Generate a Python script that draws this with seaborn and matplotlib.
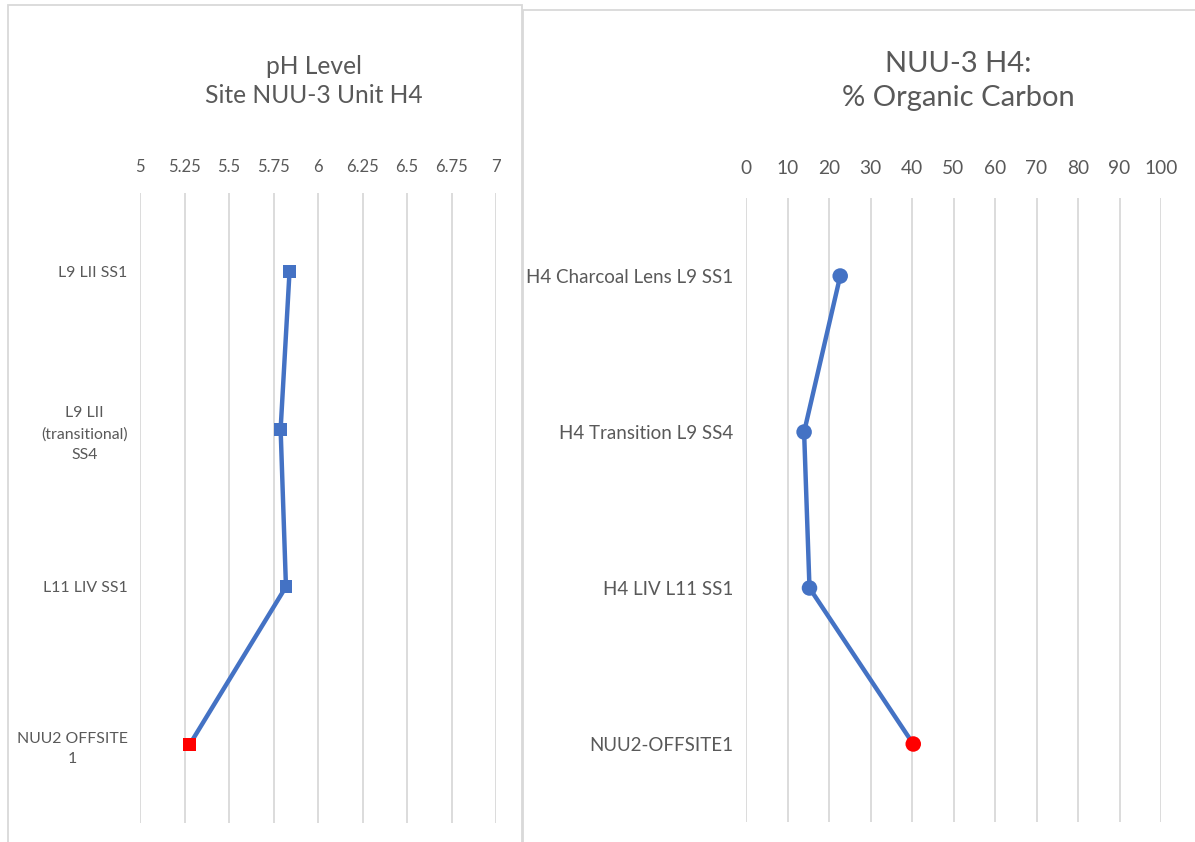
import matplotlib
matplotlib.use("Agg")
import matplotlib.pyplot as plt
from matplotlib.patches import Rectangle
import seaborn as sns
import pandas as pd

# pH readings, Site NUU-3 Unit H4 (top to bottom)
ph_samples = ["L9 LII SS1", "L9 LII\n(transitional)\nSS4", "L11 LIV SS1", "NUU2 OFFSITE\n1"]
ph_values = [5.84, 5.79, 5.82, 5.28]
ph_ticks = [5, 5.25, 5.5, 5.75, 6, 6.25, 6.5, 6.75, 7]
ph_tick_labels = ["5", "5.25", "5.5", "5.75", "6", "6.25", "6.5", "6.75", "7"]

# Percent organic carbon, NUU-3 H4 (top to bottom)
oc_samples = ["H4 Charcoal Lens L9 SS1", "H4 Transition L9 SS4", "H4 LIV L11 SS1", "NUU2-OFFSITE1"]
oc_values = [22.7, 14.0, 15.3, 40.3]
oc_ticks = [0, 10, 20, 30, 40, 50, 60, 70, 80, 90, 100]

# which samples are off-site (drawn in red)
offsite = [False, False, False, True]

sns.set_theme(style="white")
plt.rcParams["font.family"] = ["Lato", "DejaVu Sans"]

BLUE = "#4472C4"
RED = "#FF0000"
GRID = "#D9D9D9"
TEXT = "#595959"

fig = plt.figure(figsize=(11.95, 8.42), dpi=100)
W, H = 1195, 842


def box(x0, y0, x1, y1):
    return [x0 / W, 1 - y1 / H, (x1 - x0) / W, (y1 - y0) / H]


# panel frames
fig.patches.append(Rectangle((8 / W, -0.01), (522 - 8) / W, 1 - 5 / H + 0.01,
                             transform=fig.transFigure, fill=False,
                             edgecolor=GRID, linewidth=1.3))
fig.patches.append(Rectangle((523 / W, -0.01), (1200 - 523) / W, 1 - 10 / H + 0.01,
                             transform=fig.transFigure, fill=False,
                             edgecolor=GRID, linewidth=1.3))


def panel(ax, samples, values, ticks, tick_labels, xlim, marker, msize,
          tick_fs, cat_fs, xpad, ypad, cat_spacing):
    df = pd.DataFrame({"sample": samples, "value": values,
                       "pos": range(len(samples)),
                       "site": ["off" if o else "on" for o in offsite]})
    sns.lineplot(data=df, x="value", y="pos", sort=False, orient="y",
                 color=BLUE, linewidth=3.2, ax=ax, zorder=3)
    sns.scatterplot(data=df, x="value", y="pos", hue="site",
                    palette={"on": BLUE, "off": RED}, marker=marker,
                    s=msize, linewidth=0, ax=ax, zorder=4, legend=False)
    ax.set_xlim(*xlim)
    ax.set_ylim(len(samples) - 0.5, -0.5)
    ax.set_xticks(ticks)
    ax.set_xticklabels(tick_labels)
    ax.set_yticks(range(len(samples)))
    ax.set_yticklabels(samples)
    ax.xaxis.tick_top()
    ax.tick_params(axis="x", length=0, pad=xpad, labelsize=tick_fs, labelcolor=TEXT)
    ax.tick_params(axis="y", length=0, pad=ypad, labelsize=cat_fs, labelcolor=TEXT)
    for lbl in ax.get_yticklabels():
        lbl.set_multialignment("center")
        lbl.set_linespacing(cat_spacing)
    ax.grid(axis="x", color=GRID, linewidth=1.3)
    ax.grid(axis="y", visible=False)
    for s in ax.spines.values():
        s.set_visible(False)
    ax.set_xlabel("")
    ax.set_ylabel("")
    ax.set_facecolor("none")


ax1 = fig.add_axes(box(140, 193, 496, 823))
panel(ax1, ph_samples, ph_values, ph_ticks, ph_tick_labels, (5, 7), "s", 85,
      12, 11.4, 13, 9, 1.6)

ax2 = fig.add_axes(box(746, 198, 1161, 822))
panel(ax2, oc_samples, oc_values, oc_ticks, [str(t) for t in oc_ticks],
      (0, 100), "o", 125, 13.8, 13.5, 15, 9, 1.4)

fig.text(314 / W, 1 - 81 / H, "pH Level\nSite NUU-3 Unit H4", ha="center",
         va="center", fontsize=17.7, color=TEXT, linespacing=1.3)
fig.text(958 / W, 1 - 81 / H, "NUU-3 H4:\n% Organic Carbon", ha="center",
         va="center", fontsize=21, color=TEXT, linespacing=1.4)

fig.savefig("out.png", dpi=100, facecolor="white")
